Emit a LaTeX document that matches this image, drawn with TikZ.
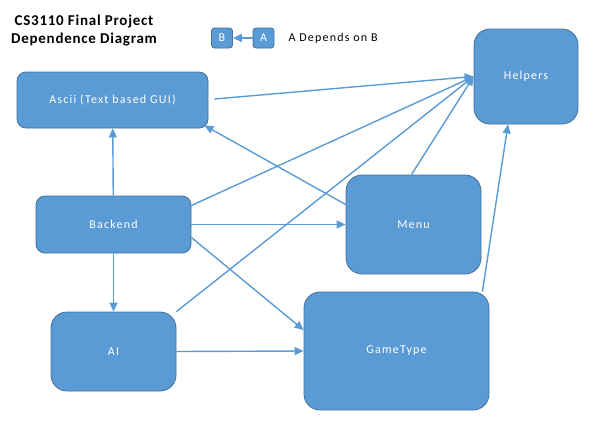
\documentclass[tikz,border=0pt]{standalone}
\usepackage{fontspec}
\setmainfont{Carlito}
\usetikzlibrary{arrows.meta}
\definecolor{boxfill}{HTML}{5B9BD5}
\definecolor{boxline}{HTML}{41719C}
\newfontfamily\labelfont[LetterSpace=10]{Carlito}
\newfontfamily\titlefont[LetterSpace=5]{Carlito}
\tikzset{
  module/.style={draw=boxline, fill=boxfill, line width=0.8pt, text=white,
    font=\labelfont\fontsize{12}{14}\selectfont, inner sep=0pt},
  small/.style={module, rounded corners=9pt},
  big/.style={module, rounded corners=16pt},
  key/.style={module, rounded corners=3pt, minimum width=21pt, minimum height=20pt},
  dep/.style={draw=boxfill, line width=1.4pt, -{Triangle[length=9pt,width=8pt]}}
}
\begin{document}
\begin{tikzpicture}[x=1pt, y=-1pt]
  \useasboundingbox (0,0) rectangle (593,429);

  % title and legend
  \node[font=\titlefont\bfseries\fontsize{15}{18}\selectfont, align=center] (title) at (84,31)
    {CS3110 Final Project\\Dependence Diagram};
  \node[key] (keyb) at (222,38) {B};
  \node[key] (keya) at (263.5,38) {A};
  \node[anchor=west, font=\labelfont\fontsize{12}{14}\selectfont] (keytext) at (285,38) {A Depends on B};
  \draw[dep] (keya) -- (keyb);

  % modules
  \node[small, minimum width=191pt, minimum height=56pt] (ascii) at (112.5,100) {Ascii (Text based GUI)};
  \node[big, minimum width=104pt, minimum height=95pt] (helpers) at (526,76.5) {Helpers};
  \node[small, minimum width=155pt, minimum height=57pt] (backend) at (113.5,224.5) {Backend};
  \node[big, minimum width=135pt, minimum height=99pt] (menu) at (413.5,224.5) {Menu};
  \node[big, minimum width=125pt, minimum height=79pt] (ai) at (113.5,351.5) {AI};
  \node[big, minimum width=185pt, minimum height=118pt] (gametype) at (396.5,351) {GameType};

  % dependencies
  \draw[dep] (backend) -- (ascii);
  \draw[dep] (backend) -- (ai);
  \draw[dep] (backend.east) -- (menu.west);
  \draw[dep] ([yshift=-13pt]backend.east) -- ([yshift=21pt]gametype.west);
  \draw[dep] ([yshift=19pt]backend.east) -- (helpers.west);
  \draw[dep] (ai.north east) -- (helpers.west);
  \draw[dep] (ai.east) -- (gametype.west);
  \draw[dep] ([yshift=20pt]menu.west) -- ([xshift=-4pt,yshift=3pt]ascii.south east);
  \draw[dep] ([xshift=-2pt]menu.north) -- (helpers.west);
  \draw[dep] ([xshift=6pt,yshift=1pt]ascii.east) -- (helpers.west);
  \draw[dep] ([xshift=-7pt]gametype.north east) -- ([xshift=-18pt]helpers.south);
\end{tikzpicture}
\end{document}
